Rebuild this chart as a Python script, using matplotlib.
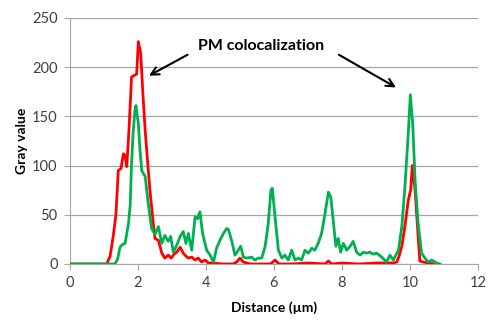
import matplotlib
matplotlib.use('Agg')
import matplotlib.pyplot as plt

plt.rcParams['font.family'] = ['Lato', 'DejaVu Sans']

# red channel profile
red_x = [0, 1.0, 1.08, 1.18, 1.27, 1.35, 1.42, 1.5, 1.57, 1.62, 1.67, 1.74, 1.81, 1.91, 1.96,
         2.01, 2.08, 2.14, 2.21, 2.28, 2.35, 2.45, 2.5, 2.6, 2.7, 2.79, 2.89, 2.98, 3.06, 3.14,
         3.24, 3.33, 3.41, 3.48, 3.58, 3.68, 3.77, 3.87, 3.97, 4.07, 4.2, 4.5, 4.8, 4.9, 5.0,
         5.1, 5.3, 5.6, 5.9, 6.03, 6.15, 6.5, 7.0, 7.5, 7.6, 7.7, 8.0, 8.5, 9.0, 9.5, 9.61,
         9.68, 9.76, 9.85, 9.95, 10.02, 10.07, 10.15, 10.24, 10.29, 10.39, 10.54, 10.7]
red_y = [0, 0, 0, 8, 28, 50, 95, 97, 112, 110, 99, 140, 190, 192, 193,
         226, 214, 175, 136, 105, 75, 41, 26, 24, 11, 6, 9, 6, 10, 12,
         17, 11, 8, 6, 7, 4, 6, 2, 4, 1, 1, 0, 0, 2, 6,
         2, 0, 0, 0, 4, 0, 0, 1, 0, 3, 0, 1, 0, 1, 1, 2,
         8, 18, 38, 65, 75, 100, 75, 28, 3, 2, 1, 0]

# green channel profile
green_x = [0, 1.25, 1.32, 1.4, 1.47, 1.55, 1.62, 1.72, 1.77, 1.81, 1.86, 1.91, 1.94, 1.98, 2.01,
           2.06, 2.11, 2.21, 2.3, 2.4, 2.5, 2.6, 2.7, 2.79, 2.89, 2.96, 3.04, 3.14, 3.24, 3.33,
           3.41, 3.48, 3.58, 3.68, 3.75, 3.82, 3.9, 4.02, 4.12, 4.22, 4.31, 4.41, 4.51, 4.61,
           4.66, 4.76, 4.85, 4.95, 5.02, 5.1, 5.2, 5.34, 5.44, 5.54, 5.64, 5.74, 5.83, 5.91,
           5.95, 6.03, 6.13, 6.23, 6.32, 6.42, 6.52, 6.62, 6.72, 6.81, 6.91, 7.01, 7.11, 7.2,
           7.3, 7.4, 7.5, 7.6, 7.67, 7.74, 7.82, 7.89, 7.96, 8.04, 8.14, 8.24, 8.33, 8.43,
           8.53, 8.63, 8.73, 8.82, 8.92, 9.02, 9.17, 9.31, 9.41, 9.51, 9.66, 9.76, 9.85, 9.95,
           10.01, 10.08, 10.15, 10.24, 10.34, 10.44, 10.54, 10.64, 10.78, 10.88]
green_y = [0, 0, 0, 5, 17, 20, 21, 41, 60, 102, 135, 156, 161, 150, 143,
           115, 95, 89, 62, 36, 30, 38, 21, 29, 23, 28, 12, 19, 28, 33,
           21, 31, 14, 48, 46, 53, 31, 14, 9, 2, 16, 24, 31, 36,
           35, 23, 9, 14, 18, 7, 6, 7, 4, 6, 6, 18, 41, 75,
           77, 48, 14, 6, 9, 4, 14, 4, 6, 4, 14, 11, 16, 14,
           21, 31, 51, 73, 68, 45, 18, 26, 12, 21, 14, 18, 23, 12,
           9, 12, 11, 12, 10, 11, 7, 2, 9, 4, 14, 38, 78, 133,
           172, 143, 85, 41, 11, 6, 2, 4, 1, 0]

fig = plt.figure(figsize=(4.92, 3.27), dpi=100)
ax = fig.add_axes([0.1423, 0.1927, 0.8292, 0.7523])

ax.plot(red_x, red_y, color='#FF0000', lw=2.0, zorder=3)
ax.plot(green_x, green_y, color='#00B050', lw=2.0, zorder=4)

ax.set_xlim(0, 12)
ax.set_ylim(0, 250)
ax.set_xticks(range(0, 13, 2))
ax.set_yticks(range(0, 251, 50))
ax.yaxis.grid(True, color='#A6A6A6', lw=0.9)
ax.set_axisbelow(True)
for s in ['top', 'right']:
    ax.spines[s].set_visible(False)
for s in ['left', 'bottom']:
    ax.spines[s].set_color('#A6A6A6')
ax.tick_params(colors='#A6A6A6', labelcolor='#404040', labelsize=10.5, length=4, pad=5)

ax.set_xlabel('Distance (µm)', fontsize=10, fontweight='bold', labelpad=8)
ax.set_ylabel('Gray value', fontsize=10, fontweight='bold', labelpad=3)

ax.text(5.63, 222, 'PM colocalization', ha='center', va='center', fontsize=11.5, fontweight='bold')
ax.annotate('', xy=(2.25, 190), xytext=(3.53, 214),
            arrowprops=dict(arrowstyle='->', color='black', lw=1.5, mutation_scale=14))
ax.annotate('', xy=(9.66, 178), xytext=(7.84, 214),
            arrowprops=dict(arrowstyle='->', color='black', lw=1.5, mutation_scale=14))

plt.savefig('out.png', dpi=100)
